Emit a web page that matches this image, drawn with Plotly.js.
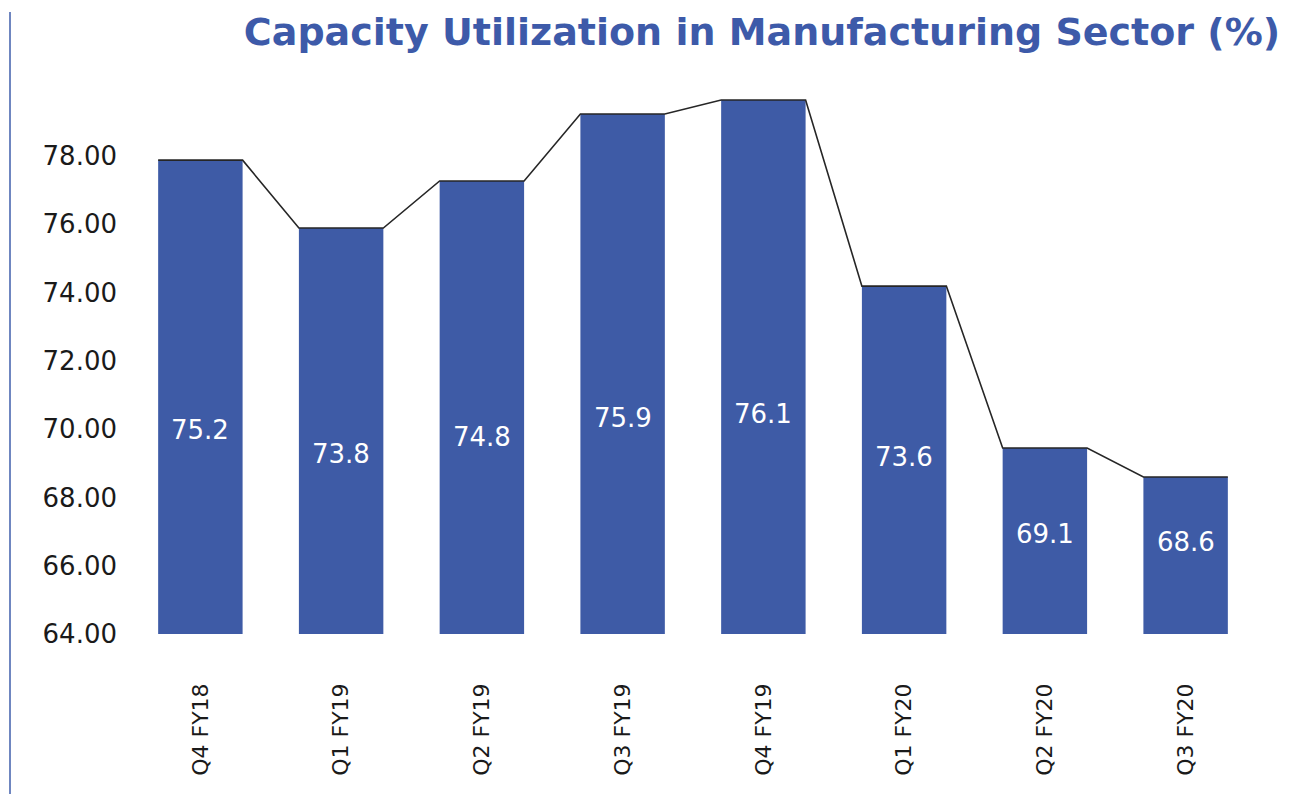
<!DOCTYPE html>
<html>
<head>
<meta charset="utf-8">
<script src="https://cdn.plot.ly/plotly-3.0.1.min.js"></script>
<style>
  html, body { margin: 0; padding: 0; background: #ffffff; }
  #wrap { position: relative; width: 1308px; height: 794px; }
  #chart { width: 1308px; height: 794px; }
  #edge { position: absolute; left: 9px; top: 12px; width: 2px; height: 782px; background: #6f86c0; z-index: 5; }
</style>
</head>
<body>
<div id="wrap">
  <div id="edge"></div>
  <div id="chart"></div>
</div>
<script>
// Quarters (categories)
const quarters = ["Q4 FY18", "Q1 FY19", "Q2 FY19", "Q3 FY19", "Q4 FY19", "Q1 FY20", "Q2 FY20", "Q3 FY20"];
// Bar heights as drawn in the picture (read against the y-axis)
const barHeights = [77.88, 75.89, 77.27, 79.23, 79.64, 74.19, 69.45, 68.60];
// Value labels printed inside the bars
const valueLabels = [75.2, 73.8, 74.8, 75.9, 76.1, 73.6, 69.1, 68.6];
// Y-axis ticks
const yTicks = [64, 66, 68, 70, 72, 74, 76, 78];

const axisMin = 64, axisMax = 79.7;
const barWidth = 0.6;
const barColor = "#3e5ba6";
const fontFamily = "'DejaVu Sans', 'Open Sans', sans-serif";

const idx = quarters.map((_, i) => i);

// line running along bar tops: left and right corners of each bar
const lineX = [], lineY = [];
idx.forEach(i => {
  lineX.push(i - barWidth / 2, i + barWidth / 2);
  lineY.push(barHeights[i], barHeights[i]);
});

const bars = {
  type: "bar",
  x: idx,
  y: barHeights,
  width: barWidth,
  marker: { color: barColor, line: { width: 0 } },
  hoverinfo: "skip",
  showlegend: false
};

const topLine = {
  type: "scatter",
  mode: "lines",
  x: lineX,
  y: lineY,
  line: { color: "#262626", width: 1.6 },
  hoverinfo: "skip",
  showlegend: false,
  cliponaxis: false
};

const annotations = idx.map(i => ({
  x: i,
  y: (axisMin + valueLabels[i]) / 2,
  xref: "x",
  yref: "y",
  text: valueLabels[i].toFixed(1),
  showarrow: false,
  yshift: 13,
  font: { family: fontFamily, size: 26, color: "#ffffff" }
}));

const layout = {
  width: 1308,
  height: 794,
  paper_bgcolor: "#ffffff",
  plot_bgcolor: "#ffffff",
  margin: { l: 130, r: 52, t: 98, b: 160 },
  title: {
    text: "Capacity Utilization in Manufacturing Sector (%)",
    xref: "container",
    yref: "container",
    x: 762 / 1308,
    xanchor: "center",
    y: 1 - 32 / 794,
    yanchor: "middle",
    font: { family: fontFamily, size: 38, color: "#3d5aa9", weight: 700 }
  },
  xaxis: {
    type: "linear",
    range: [-0.5, quarters.length - 0.5],
    tickmode: "array",
    tickvals: idx,
    ticktext: quarters,
    tickangle: -90,
    showgrid: false,
    zeroline: false,
    showline: false,
    ticks: "",
    ticklabelstandoff: 44,
    tickfont: { family: fontFamily, size: 22, color: "#1a1a1a" },
    fixedrange: true
  },
  yaxis: {
    range: [axisMin, axisMax],
    tickmode: "array",
    tickvals: yTicks,
    ticktext: yTicks.map(v => v.toFixed(2)),
    showgrid: false,
    zeroline: false,
    showline: false,
    ticks: "",
    ticklabelstandoff: 12,
    tickfont: { family: fontFamily, size: 26, color: "#1a1a1a" },
    fixedrange: true
  },
  annotations: annotations,
  showlegend: false
};

Plotly.newPlot("chart", [bars, topLine], layout, { displayModeBar: false, staticPlot: true });
</script>
</body>
</html>
